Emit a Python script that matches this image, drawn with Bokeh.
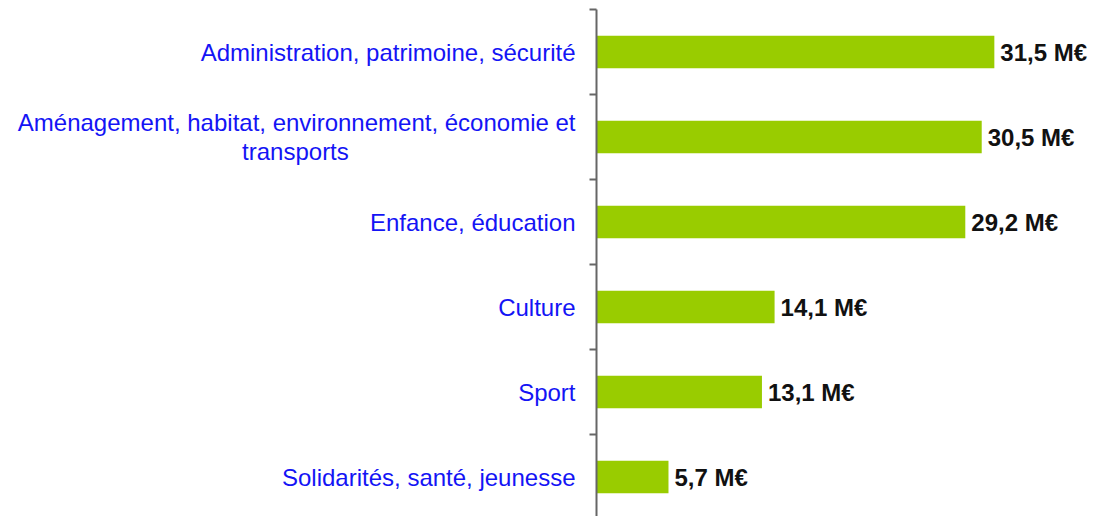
from bokeh.plotting import figure
from bokeh.models import ColumnDataSource, LabelSet, Range1d, LinearAxis, FixedTicker
from bokeh.core.properties import value
from bokeh.embed import file_html
from bokeh.resources import INLINE

NBSP = "\u00a0"
categories = [
    "Administration, patrimoine, sécurité",
    "Aménagement, habitat, environnement, économie et\ntransports" + NBSP * 34,
    "Enfance, éducation",
    "Culture",
    "Sport",
    "Solidarités, santé, jeunesse",
]
values = [31.5, 30.5, 29.2, 14.1, 13.1, 5.7]
value_labels = [f"{v:.1f}".replace(".", ",") + " M€" for v in values]

positions = list(range(len(categories)))
band_px = 85

W, H = 1100, 516
left_border, top_border = 596, 9
frame_h = H - top_border
p = figure(width=W, height=H, output_backend="svg", toolbar_location=None,
           x_range=Range1d(0, (W - left_border) / 12.63),
           y_range=Range1d(-0.5 + frame_h / band_px, -0.5),
           min_border_left=left_border, min_border_right=0,
           min_border_top=top_border, min_border_bottom=0,
           x_axis_location=None, y_axis_location=None)
p.outline_line_color = None
p.xgrid.visible = False
p.ygrid.visible = False

src = ColumnDataSource(dict(y=positions, v=values, vl=value_labels))

p.hbar(y="y", left=0, right="v", height=0.38, source=src,
       fill_color="#99CC00", line_color=None)

yax = LinearAxis(ticker=FixedTicker(ticks=positions,
                                    minor_ticks=[i - 0.5 for i in positions]))
yax.major_label_overrides = {i: c for i, c in zip(positions, categories)}
yax.major_label_text_font = "Liberation Sans"
yax.major_label_text_font_size = "24px"
yax.major_label_text_color = "#1414f5"
yax.major_label_text_line_height = 1.05
yax.major_label_standoff = 14
yax.axis_line_color = "#666666"
yax.axis_line_width = 2
yax.major_tick_line_color = None
yax.major_tick_out = 0
yax.major_tick_in = 0
yax.minor_tick_line_color = "#666666"
yax.minor_tick_line_width = 2
yax.minor_tick_out = 7
yax.minor_tick_in = 0
p.add_layout(yax, "left")

vals = LabelSet(x="v", y="y", text="vl", source=src, x_offset=6,
                text_font=value("Liberation Sans"), text_font_style="bold",
                text_font_size=value("24px"), text_color="#111111",
                text_baseline="middle", text_align="left")
p.add_layout(vals)

open("out.html", "w").write(file_html(p, INLINE))
